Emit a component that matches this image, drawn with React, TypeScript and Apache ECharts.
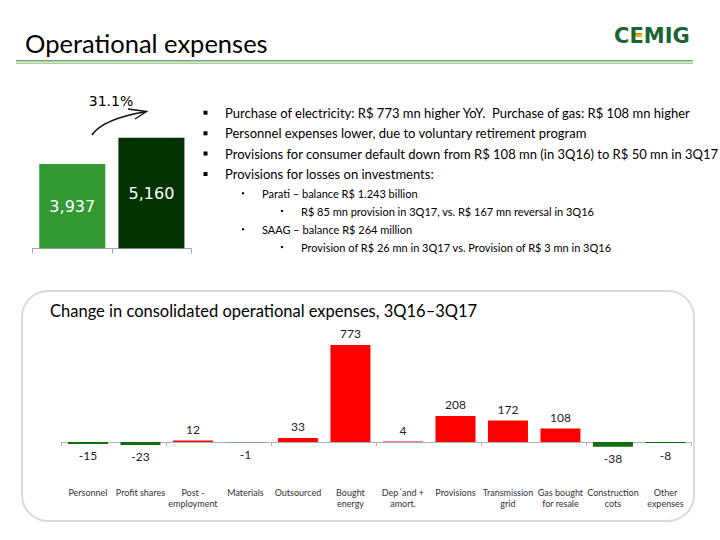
import React, { useEffect, useRef } from "react";
import * as echarts from "echarts";

const smallCats = ["3Q16", "3Q17"];
const smallValues = [3937, 5160];
const smallColors = ["#339933", "#003300"];
const growthLabel = "31.1%";

const categories = [
  "Personnel",
  "Profit shares",
  "Post -\nemployment",
  "Materials",
  "Outsourced",
  "Bought\nenergy",
  "Dep´and +\namort.",
  "Provisions",
  "Transmission\ngrid",
  "Gas bought\nfor resale",
  "Construction\ncots",
  "Other\nexpenses",
];
const changes = [-15, -23, 12, -1, 33, 773, 4, 208, 172, 108, -38, -8];

const bullets = [
  "Purchase of electricity: R$ 773 mn higher YoY.  Purchase of gas: R$ 108 mn higher",
  "Personnel expenses lower, due to voluntary retirement program",
  "Provisions for consumer default down from R$ 108 mn (in 3Q16) to R$ 50 mn in 3Q17",
  "Provisions for losses on investments:",
];
const subBullets = [
  { level: 1, text: "Parati – balance R$ 1.243 billion" },
  { level: 2, text: "R$ 85 mn provision in 3Q17, vs. R$ 167 mn reversal in 3Q16" },
  { level: 1, text: "SAAG – balance R$ 264 million" },
  { level: 2, text: "Provision of R$ 26 mn in 3Q17 vs. Provision of R$ 3 mn in 3Q16" },
];

const FONT = "Lato";
const POS = "#ff0000";
const NEG = "#0d6e0d";

export default function App() {
  const ref = useRef<HTMLDivElement>(null);
  useEffect(() => {
    if (!ref.current) return;
    const chart = echarts.init(ref.current, undefined, { renderer: "svg" });

    const bulletY = [112.7, 133.3, 153.5, 174];
    const subY = [193.3, 211, 229.3, 247];
    const graphics: any[] = [];

    // header
    graphics.push({
      type: "text",
      x: 25,
      y: 43,
      style: { text: "Operational expenses", font: `25.5px ${FONT}`, fill: "#000", verticalAlign: "middle" },
    });
    graphics.push({ type: "rect", shape: { x: 16, y: 60, width: 677, height: 1.5 }, style: { fill: "#779f7a" } });
    graphics.push({ type: "rect", shape: { x: 16, y: 62.5, width: 677, height: 1.5 }, style: { fill: "#a9d18e" } });

    // logo
    graphics.push({
      type: "text",
      x: 614,
      y: 36,
      style: {
        text: "CEMIG",
        font: `bold 21px "DejaVu Sans"`,
        fill: "#1b6434",
        verticalAlign: "middle",
      },
    });
    graphics.push({ type: "rect", shape: { x: 635.5, y: 33.5, width: 6.5, height: 3.6 }, style: { fill: "#f2b705" } });

    // growth label and arrow
    graphics.push({
      type: "text",
      x: 111,
      y: 100.7,
      style: { text: growthLabel, font: `14px "DejaVu Sans"`, fill: "#000", align: "center", verticalAlign: "middle" },
    });
    graphics.push({
      type: "bezierCurve",
      shape: { x1: 92, y1: 135, cpx1: 100, cpy1: 123, cpx2: 120, cpy2: 116, x2: 146.5, y2: 111.5 },
      style: { stroke: "#111", lineWidth: 1.6, fill: "none" },
    });
    graphics.push({
      type: "polyline",
      shape: { points: [[128, 109], [146.5, 111.5], [135, 119]] },
      style: { stroke: "#111", lineWidth: 1.4, fill: "none" },
    });

    // bullets
    bullets.forEach((t, i) => {
      graphics.push({
        type: "rect",
        shape: { x: 203.5, y: bulletY[i] - 2, width: 4, height: 4 },
        style: { fill: "#000" },
      });
      graphics.push({
        type: "text",
        x: 225,
        y: bulletY[i],
        style: { text: t, font: `13px ${FONT}`, fill: "#000", verticalAlign: "middle" },
      });
    });
    subBullets.forEach((b, i) => {
      const bx = b.level === 1 ? 243 : 282;
      const tx = b.level === 1 ? 262 : 301;
      graphics.push({
        type: "circle",
        shape: { cx: bx, cy: subY[i], r: 1.2 },
        style: { fill: "#000" },
      });
      graphics.push({
        type: "text",
        x: tx,
        y: subY[i],
        style: { text: b.text, font: `11px ${FONT}`, fill: "#000", verticalAlign: "middle" },
      });
    });

    // lower panel
    graphics.push({
      type: "rect",
      shape: { x: 22, y: 291, width: 672, height: 230, r: 26 },
      style: { fill: "none", stroke: "#d9d9d9", lineWidth: 2 },
    });
    graphics.push({
      type: "text",
      x: 50,
      y: 311,
      style: {
        text: "Change in consolidated operational expenses, 3Q16–3Q17",
        font: `16.5px ${FONT}`,
        fill: "#000",
        verticalAlign: "middle",
      },
    });

    const option: any = {
      animation: false,
      backgroundColor: "#fff",
      textStyle: { fontFamily: FONT },
      grid: [
        { left: 32.7, width: 158.3, top: 137.7, height: 110.6, containLabel: false },
        { left: 61.7, width: 630, top: 341.6, height: 113, containLabel: false },
      ],
      xAxis: [
        {
          gridIndex: 0,
          type: "category",
          data: smallCats,
          axisLine: { lineStyle: { color: "#a6a6a6", width: 1 } },
          axisTick: { show: true, alignWithLabel: false, length: 5, lineStyle: { color: "#a6a6a6" } },
          axisLabel: { show: false },
        },
        {
          gridIndex: 1,
          type: "category",
          data: categories,
          axisLine: { onZero: true, lineStyle: { color: "#b0b0b0", width: 1 } },
          axisTick: { show: true, length: 4, lineStyle: { color: "#b0b0b0" } },
          axisLabel: { show: false },
        },
        {
          gridIndex: 1,
          type: "category",
          data: categories,
          position: "bottom",
          axisLine: { show: false, onZero: false },
          axisTick: { show: false },
          axisLabel: {
            show: true,
            interval: 0,
            margin: 32,
            fontSize: 9,
            lineHeight: 11,
            color: "#333",
            fontFamily: FONT,
          },
        },
      ],
      yAxis: [
        { gridIndex: 0, type: "value", min: 0, max: 5160, show: false },
        { gridIndex: 1, type: "value", min: -100, max: 800, show: false },
      ],
      series: [
        {
          type: "bar",
          xAxisIndex: 0,
          yAxisIndex: 0,
          barWidth: 66,
          data: smallValues.map((v, i) => ({ value: v, itemStyle: { color: smallColors[i] } })),
          label: {
            show: true,
            position: "inside",
            color: "#fff",
            fontSize: 16,
            fontFamily: "DejaVu Sans",
            formatter: (p: any) => p.value.toLocaleString("en-US"),
          },
        },
        {
          type: "bar",
          xAxisIndex: 1,
          yAxisIndex: 1,
          barWidth: 40,
          data: changes.map((v) => ({
            value: v,
            itemStyle: { color: v >= 0 ? POS : NEG },
            label: { position: v >= 0 ? "top" : "bottom", distance: v >= 0 ? 5 : 6 },
          })),
          label: {
            show: true,
            color: "#222",
            fontSize: 12,
            fontFamily: FONT,
          },
        },
      ],
      graphic: graphics,
    };
    chart.setOption(option);
    return () => chart.dispose();
  }, []);
  return (
    <div
      ref={ref}
      style={{ position: "fixed", left: 0, top: 0, width: 720, height: 540, background: "#fff" }}
    />
  );
}
